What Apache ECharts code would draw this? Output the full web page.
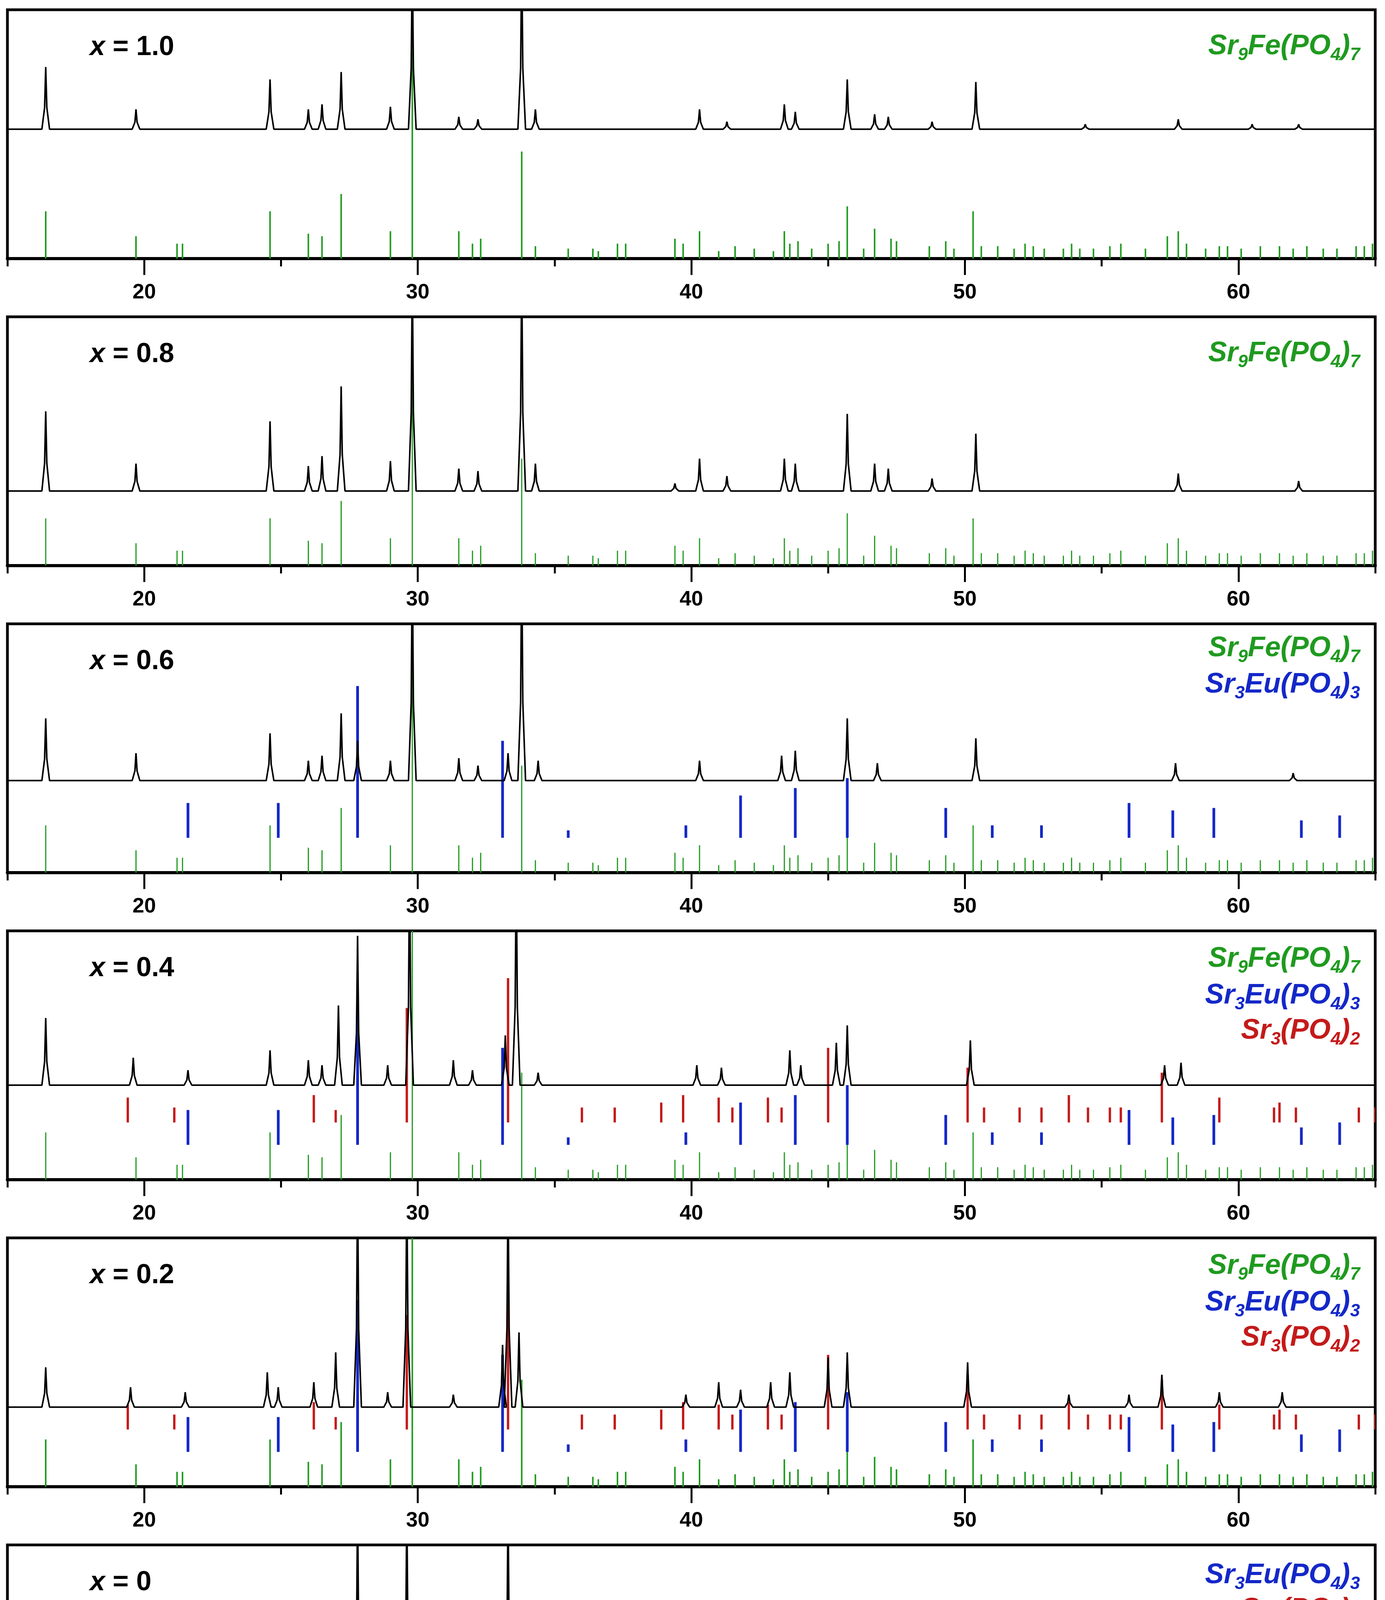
<!DOCTYPE html>
<html><head><meta charset="utf-8">
<script src="https://cdn.jsdelivr.net/npm/echarts@6/dist/echarts.min.js"></script>
<style>html,body{margin:0;padding:0;background:#fff}#c{width:3546px;height:4902px}</style>
</head><body><div id="c"></div>
<script>
// Stick patterns: [2theta, relative height]
const greenSticks = [[16.4,19],[19.7,9],[21.2,6],[21.4,6],[24.6,19],[26.0,10],[26.5,9],[27.2,26],[29.0,11],[29.8,120],[31.5,11],[32.0,6],[32.3,8],[33.8,43],[34.3,5],[35.5,4],[36.4,4],[36.6,3],[37.3,6],[37.6,6],[39.4,8],[39.7,6],[40.3,11],[41.0,3],[41.6,5],[42.3,4],[43.0,3],[43.4,11],[43.6,6],[43.9,7],[44.4,4],[45.0,6],[45.4,7],[45.7,21],[46.3,4],[46.7,12],[47.3,8],[47.5,7],[48.7,5],[49.3,7],[49.6,4],[50.3,19],[50.6,5],[51.2,5],[51.8,4],[52.2,6],[52.5,5],[52.9,4],[53.6,4],[53.9,6],[54.2,4],[54.7,4],[55.3,5],[55.7,6],[56.6,4],[57.4,9],[57.8,11],[58.1,6],[58.8,4],[59.3,5],[59.6,5],[60.1,4],[60.8,5],[61.5,5],[62.0,4],[62.5,5],[63.1,4],[63.6,4],[64.3,5],[64.6,5],[64.9,6]];
const blueSticks = [[21.6,14],[24.9,14],[27.8,61],[33.1,39],[35.5,3],[39.8,5],[41.8,17],[43.8,20],[45.7,24],[49.3,12],[51.0,5],[52.8,5],[56.0,14],[57.6,11],[59.1,12],[62.3,7],[63.7,9]];
const redSticks = [[19.4,10],[21.1,6],[26.2,11],[27.0,5],[29.6,46],[33.3,58],[36.0,6],[37.2,6],[38.9,8],[39.7,11],[41.0,10],[41.5,6],[42.8,10],[43.3,6],[45.0,30],[50.1,22],[50.7,6],[52.0,6],[52.8,6],[53.8,11],[54.5,6],[55.3,6],[55.7,6],[57.2,20],[59.3,10],[61.3,6],[61.5,8],[62.1,6],[64.4,6],[65.0,6]];

// Measured patterns: [2theta, peak height above baseline]
const pat10 = [[16.4,25],[19.7,8],[24.6,20],[26.0,8],[26.5,10],[27.2,23],[29.0,9],[29.8,70],[31.5,5],[32.2,4],[33.8,70],[34.3,8],[40.3,8],[41.3,3],[43.4,10],[43.8,7],[45.7,20],[46.7,6],[47.2,5],[48.8,3],[50.4,19],[54.4,2],[57.8,4],[60.5,2],[62.2,2]];
const pat08 = [[16.4,32],[19.7,11],[24.6,28],[26.0,10],[26.5,14],[27.2,42],[29.0,12],[29.8,90],[31.5,9],[32.2,8],[33.8,90],[34.3,11],[39.4,3],[40.3,13],[41.3,6],[43.4,13],[43.8,11],[45.7,31],[46.7,11],[47.2,9],[48.8,5],[50.4,23],[57.8,7],[62.2,4]];
const pat06 = [[16.4,25],[19.7,11],[24.6,19],[26.0,8],[26.5,10],[27.2,27],[27.8,16],[29.0,8],[29.8,90],[31.5,9],[32.2,6],[33.3,11],[33.8,90],[34.4,8],[40.3,8],[43.3,10],[43.8,12],[45.7,25],[46.8,7],[50.4,17],[57.7,7],[62.0,3]];
const pat04 = [[16.4,27],[19.6,11],[21.6,6],[24.6,14],[26.0,10],[26.5,8],[27.1,32],[27.8,60],[28.9,8],[29.7,90],[31.3,10],[32.0,6],[33.2,20],[33.6,90],[34.4,5],[40.2,8],[41.1,7],[43.6,14],[44.0,8],[45.3,17],[45.7,24],[50.2,18],[57.3,8],[57.9,9]];
const pat02 = [[16.4,16],[19.5,8],[21.5,6],[24.5,14],[24.9,8],[26.2,10],[27.0,22],[27.8,90],[28.9,6],[29.6,90],[31.3,5],[33.1,25],[33.3,90],[33.7,30],[39.8,5],[41.0,10],[41.8,7],[42.9,10],[43.6,14],[45.0,20],[45.7,22],[50.1,18],[53.8,5],[56.0,5],[57.2,13],[59.3,6],[61.6,6]];
const pat00 = [[19.4,6],[21.5,5],[24.9,10],[26.2,9],[27.8,90],[29.6,90],[33.0,30],[33.3,90],[39.8,8],[41.0,12],[41.7,9],[42.8,15],[43.3,11],[43.7,12],[45.0,38],[45.3,20],[45.7,27],[49.3,4],[50.1,21],[50.3,8],[52.0,4],[53.8,10],[56.0,8],[57.2,24],[57.5,12],[59.1,8],[59.3,14],[61.3,6],[62.1,3]];

const xTicks = [20,30,40,50,60];
const labels = ['1.0','0.8','0.6','0.4','0.2','0'];

const GREEN='#1f9a1f', BLUE='#1428c8', RED='#c41a1a';
const panels = [
  {pat:pat10, base:52, sticks:[[greenSticks,0,GREEN,4]], leg:[['g',100]]},
  {pat:pat08, base:30, sticks:[[greenSticks,0,GREEN,3]], leg:[['g',100]]},
  {pat:pat06, base:37, sticks:[[greenSticks,0,GREEN,3],[blueSticks,14,BLUE,7]], leg:[['g',69],['b',162]]},
  {pat:pat04, base:38, sticks:[[greenSticks,0,GREEN,3],[blueSticks,14,BLUE,7],[redSticks,23,RED,6]], leg:[['g',78],['b',172],['r',262]]},
  {pat:pat02, base:32, sticks:[[greenSticks,0,GREEN,4],[blueSticks,14,BLUE,7],[redSticks,23,RED,6]], leg:[['g',78],['b',172],['r',262]]},
  {pat:pat00, base:29, sticks:[[blueSticks,0,BLUE,7],[redSticks,17,RED,6]], leg:[['b',84],['r',172]]}
];

const L=19, R=25, T0=25, PITCH=786, H=637;
const FONT='Liberation Sans Narrow, Arial Narrow, Liberation Sans, Arial';
const grid=[], xAxis=[], yAxis=[], series=[], graphic=[];
function buildLine(pat, base){
  const pts=[[15,base]];
  pat.slice().sort((a,b)=>a[0]-b[0]).forEach(p=>{
    pts.push([p[0]-0.14,base],[p[0]-0.04,base+p[1]*0.35],[p[0],base+p[1]],[p[0]+0.04,base+p[1]*0.35],[p[0]+0.14,base]);
  });
  pts.push([65,base]);
  return pts;
}
const legText = {
  g:{t:'{a|Sr}{s|9}{a|Fe(PO}{s|4}{a|)}{s|7}', c:GREEN},
  b:{t:'{a|Sr}{s|3}{a|Eu(PO}{s|4}{a|)}{s|3}', c:BLUE},
  r:{t:'{a|Sr}{s|3}{a|(PO}{s|4}{a|)}{s|2}', c:RED}
};
panels.forEach((p,i)=>{
  const top=T0+i*PITCH;
  grid.push({left:L,right:R,top:top,height:H,show:true,borderColor:'#000',borderWidth:7,backgroundColor:'transparent'});
  xAxis.push({gridIndex:i,type:'value',min:15,max:65,interval:5,position:'bottom',splitLine:{show:false},
    axisLine:{show:true,onZero:false,lineStyle:{color:'#000',width:8}},
    axisTick:{show:true,length:20,lineStyle:{color:'#000',width:5}},
    axisLabel:{show:false}});
  xAxis.push({gridIndex:i,type:'value',min:15,max:65,interval:5,position:'bottom',splitLine:{show:false},
    axisLine:{show:false},
    axisTick:{show:true,length:42,customValues:xTicks,lineStyle:{color:'#000',width:5}},
    axisLabel:{show:true,customValues:xTicks,margin:60,fontSize:54,fontWeight:'bold',fontFamily:FONT,color:'#000'}});
  yAxis.push({gridIndex:i,type:'value',min:0,max:100,show:false});
  series.push({type:'line',xAxisIndex:2*i,yAxisIndex:i,data:buildLine(p.pat,p.base),showSymbol:false,
    lineStyle:{color:'#000',width:4},clip:true,silent:true,z:3});
  p.sticks.forEach(s=>{
    const [d,b,c,w]=s;
    series.push({type:'custom',xAxisIndex:2*i,yAxisIndex:i,clip:true,silent:true,z:2,
      data:d.map(v=>[v[0],b,b+v[1]]),
      renderItem:(params,api)=>{
        const a=api.coord([api.value(0),api.value(1)]), e=api.coord([api.value(0),api.value(2)]);
        return {type:'line',shape:{x1:a[0],y1:a[1],x2:e[0],y2:e[1]},style:{stroke:c,lineWidth:w}};
      }});
  });
  graphic.push({type:'text',left:230,top:top+62,style:{
    text:'{i|x}{n| = '+labels[i]+'}',
    rich:{i:{fontSize:70,fontWeight:'bold',fontStyle:'italic',fontFamily:'Liberation Sans, Arial',fill:'#000'},
          n:{fontSize:70,fontWeight:'bold',fontFamily:'Liberation Sans, Arial',fill:'#000'}}}});
  p.leg.forEach(([k,cy])=>{
    const lt=legText[k];
    graphic.push({type:'text',right:64,top:top+cy-42,style:{text:lt.t,
      rich:{a:{fontSize:72,fontWeight:'bold',fontStyle:'italic',fontFamily:'Liberation Sans, Arial',fill:lt.c},
            s:{fontSize:46,fontWeight:'bold',fontStyle:'italic',fontFamily:'Liberation Sans, Arial',fill:lt.c,verticalAlign:'bottom',padding:[44,0,0,0]}}}});
  });
});
graphic.push({type:'text',left:'center',top:4755,style:{text:'2θ, degree',fontSize:115,fontWeight:'bold',fontFamily:'Liberation Sans, Arial',fill:'#000'}});
const chart=echarts.init(document.getElementById('c'));
chart.setOption({animation:false,backgroundColor:'#fff',grid,xAxis,yAxis,series,graphic});
</script></body></html>
